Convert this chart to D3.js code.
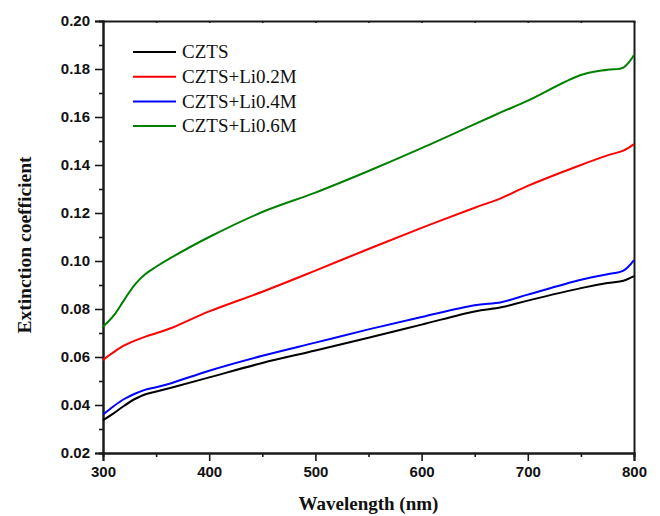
<!DOCTYPE html>
<html>
<head>
<meta charset="utf-8">
<script src="https://cdn.jsdelivr.net/npm/d3@7"></script>
<style>
  body { margin: 0; background: #fff; }
  .tick text { font-family: "Liberation Sans", Arial, sans-serif; font-weight: bold; font-size: 15px; fill: #111; }
  .axis-title { font-family: "Liberation Serif", "Times New Roman", serif; font-weight: bold; font-size: 19px; fill: #111; }
  .legend-text { font-family: "Liberation Serif", "Times New Roman", serif; font-size: 19px; fill: #111; }
</style>
</head>
<body>
<div id="chart"></div>
<script>
// wavelength grid (nm) and extinction coefficient
const wavelength = [300, 310, 320, 330, 340, 350, 365, 400, 450, 500, 550, 600, 650, 675, 700, 750, 775, 790, 800];
const czts   = [0.0337, 0.0365, 0.0397, 0.0425, 0.0445, 0.0456, 0.0473, 0.0515, 0.0575, 0.0627, 0.0680, 0.0735, 0.0790, 0.0807, 0.0835, 0.0887, 0.0908, 0.0918, 0.0937];
const li02   = [0.0588, 0.0620, 0.0648, 0.0668, 0.0685, 0.0699, 0.0722, 0.0790, 0.0872, 0.0960, 0.1050, 0.1138, 0.1222, 0.1262, 0.1313, 0.1400, 0.1440, 0.1460, 0.1487];
const li04   = [0.0360, 0.0395, 0.0425, 0.0447, 0.0464, 0.0474, 0.0492, 0.0543, 0.0605, 0.0660, 0.0715, 0.0767, 0.0816, 0.0828, 0.0860, 0.0922, 0.0945, 0.0960, 0.1004];
const li06   = [0.0726, 0.0772, 0.0838, 0.0902, 0.0946, 0.0976, 0.1016, 0.1100, 0.1204, 0.1285, 0.1375, 0.1470, 0.1570, 0.1620, 0.1668, 0.1775, 0.1797, 0.1806, 0.1858];

const seriesNames = ["CZTS", "CZTS+Li0.2M", "CZTS+Li0.4M", "CZTS+Li0.6M"];
const seriesValues = [czts, li02, li04, li06];
const seriesColors = ["#000000", "#ff0000", "#0000ff", "#008000"];

const xTicks = [300, 400, 500, 600, 700, 800];
const yTicks = [0.02, 0.04, 0.06, 0.08, 0.10, 0.12, 0.14, 0.16, 0.18, 0.20];

const margin = {top: 21, right: 26, bottom: 63, left: 103},
    width = 660 - margin.left - margin.right,
    height = 516 - margin.top - margin.bottom;

const svg = d3.select("#chart")
    .append("svg")
    .attr("width", 660)
    .attr("height", 516)
    .append("g")
    .attr("transform", `translate(${margin.left}, ${margin.top})`);

const x = d3.scaleLinear().domain([300, 800]).range([0, width]);
const y = d3.scaleLinear().domain([0.02, 0.20]).range([height, 0]);

// minor ticks first (no labels)
svg.append("g")
    .attr("transform", `translate(0, ${height})`)
    .call(d3.axisBottom(x).tickValues(d3.range(350, 800, 100)).tickSize(4).tickFormat(""));
svg.append("g")
    .call(d3.axisLeft(y).tickValues(d3.range(0.03, 0.20, 0.02)).tickSize(4).tickFormat(""));
// top: tiny inward ticks
svg.append("g")
    .call(d3.axisTop(x).tickValues(d3.range(350, 800, 50)).tickSize(-2).tickFormat(""));
svg.append("g")
    .attr("transform", `translate(${width}, 0)`)
    .call(d3.axisRight(y).tickValues(yTicks).tickSize(0).tickFormat(""));

// major ticks
svg.append("g")
    .attr("transform", `translate(0, ${height})`)
    .call(d3.axisBottom(x).tickValues(xTicks).tickSize(8).tickPadding(5).tickFormat(d3.format("d")));
svg.append("g")
    .call(d3.axisLeft(y).tickValues(yTicks).tickSize(8).tickPadding(5).tickFormat(d3.format(".2f")));

svg.selectAll(".domain").attr("stroke", "#1a1a1a").attr("stroke-width", 2);
svg.selectAll(".tick line").attr("stroke", "#1a1a1a").attr("stroke-width", 1.6);

// curves
const line = d3.line()
    .x((d, i) => x(wavelength[i]))
    .y(d => y(d))
    .curve(d3.curveCatmullRom.alpha(0.5));

svg.append("g")
    .selectAll("path")
    .data(seriesValues)
    .join("path")
    .attr("fill", "none")
    .attr("stroke", (d, i) => seriesColors[i])
    .attr("stroke-width", 2)
    .attr("d", line);

// legend
const legend = svg.append("g").attr("transform", "translate(30, 31)");
seriesNames.forEach((name, i) => {
    const row = legend.append("g").attr("transform", `translate(0, ${i * 24.7})`);
    row.append("line")
        .attr("x1", 0).attr("x2", 43)
        .attr("stroke", seriesColors[i])
        .attr("stroke-width", 2);
    row.append("text")
        .attr("class", "legend-text")
        .attr("x", 49)
        .attr("dy", "0.33em")
        .text(name);
});

// axis titles
svg.append("text")
    .attr("class", "axis-title")
    .attr("text-anchor", "middle")
    .attr("x", width / 2)
    .attr("y", height + 57)
    .text("Wavelength (nm)");

svg.append("text")
    .attr("class", "axis-title")
    .attr("text-anchor", "middle")
    .style("font-size", "19.5px")
    .attr("transform", `translate(-72, ${height / 2 + 8}) rotate(-90)`)
    .text("Extinction coefficient");
</script>
</body>
</html>
